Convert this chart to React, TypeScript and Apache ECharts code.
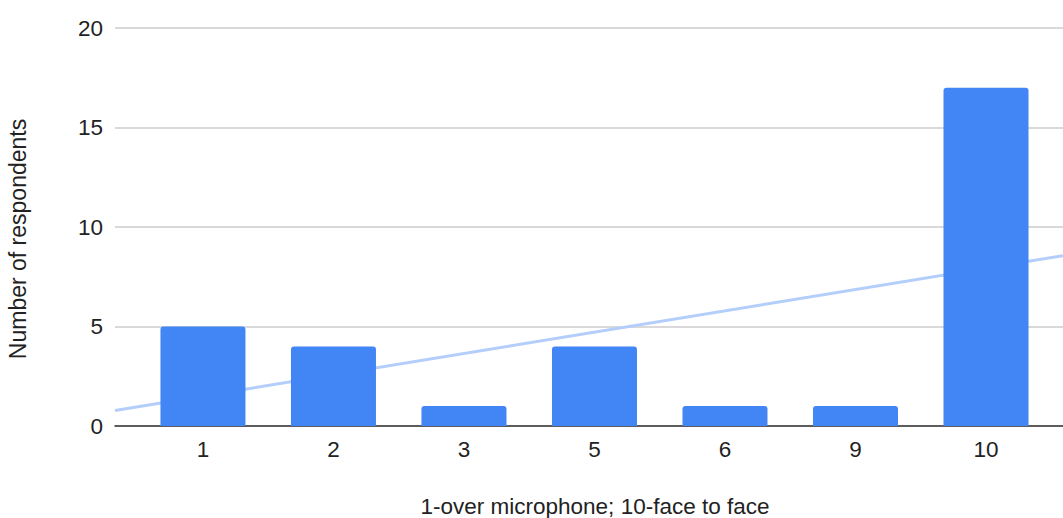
import React, { useEffect, useRef } from "react";
import * as echarts from "echarts";

const categories = ["1", "2", "3", "5", "6", "9", "10"];
const respondents = [5, 4, 1, 4, 1, 1, 17];
const yTicks = [0, 5, 10, 15, 20];

const xTitle = "1-over microphone; 10-face to face";
const yTitle = "Number of respondents";

const X_MIN = -0.674;
const X_MAX = 6.59;

function trend(values: number[]) {
  const n = values.length;
  const mx = (n - 1) / 2;
  const my = values.reduce((a, b) => a + b, 0) / n;
  let sxy = 0;
  let sxx = 0;
  values.forEach((v, i) => {
    sxy += (i - mx) * (v - my);
    sxx += (i - mx) * (i - mx);
  });
  const slope = sxy / sxx;
  const f = (x: number) => my + slope * (x - mx);
  return [
    [X_MIN, f(X_MIN)],
    [X_MAX, f(X_MAX)],
  ];
}

export default function App() {
  const ref = useRef<HTMLDivElement>(null);
  useEffect(() => {
    if (!ref.current) return;
    const chart = echarts.init(ref.current, null, { renderer: "svg" });
    const font = "'Liberation Sans', Arial, sans-serif";
    const fs = 22.5;
    chart.setOption({
      animation: false,
      textStyle: { fontFamily: font },
      grid: { left: 115, right: 0, top: 28, bottom: 92, containLabel: false },
      xAxis: {
        type: "value",
        min: X_MIN,
        max: X_MAX,
        splitLine: { show: false },
        axisLine: { show: true, onZero: false, lineStyle: { color: "#333333", width: 1.5 } },
        axisTick: { show: false },
        axisLabel: {
          customValues: categories.map((_, i) => i),
          formatter: (v: number) => categories[Math.round(v)] ?? "",
          color: "#222222",
          fontSize: fs,
          margin: 12,
          fontFamily: font,
        },
      },
      yAxis: {
        type: "value",
        min: 0,
        max: 20,
        interval: 5,
        axisLine: { show: false },
        axisTick: { show: false },
        axisLabel: {
          customValues: yTicks,
          color: "#222222",
          fontSize: fs,
          margin: 12,
          fontFamily: font,
        },
        splitLine: { lineStyle: { color: "#cccccc", width: 1.5 } },
      },
      graphic: [
        {
          type: "text",
          x: 595,
          y: 506,
          style: {
            text: xTitle,
            fill: "#222222",
            fontSize: fs,
            fontFamily: font,
            textAlign: "center",
            textVerticalAlign: "middle",
          },
        },
        {
          type: "text",
          x: 18,
          y: 239,
          rotation: Math.PI / 2,
          style: {
            text: yTitle,
            fill: "#222222",
            fontSize: 23,
            fontFamily: font,
            textAlign: "center",
            textVerticalAlign: "middle",
          },
        },
      ],
      series: [
        {
          type: "line",
          data: trend(respondents),
          symbol: "none",
          lineStyle: { color: "#b3cefb", width: 3 },
          z: 1,
          silent: true,
        },
        {
          type: "bar",
          data: respondents.map((v, i) => [i, v]),
          barWidth: 85,
          itemStyle: { color: "#4285f4", borderRadius: [3, 3, 0, 0] },
          z: 2,
        },
      ],
    });
    return () => chart.dispose();
  }, []);
  return (
    <div
      ref={ref}
      style={{ position: "fixed", left: 0, top: 0, width: 1063, height: 518, background: "#fff" }}
    />
  );
}
